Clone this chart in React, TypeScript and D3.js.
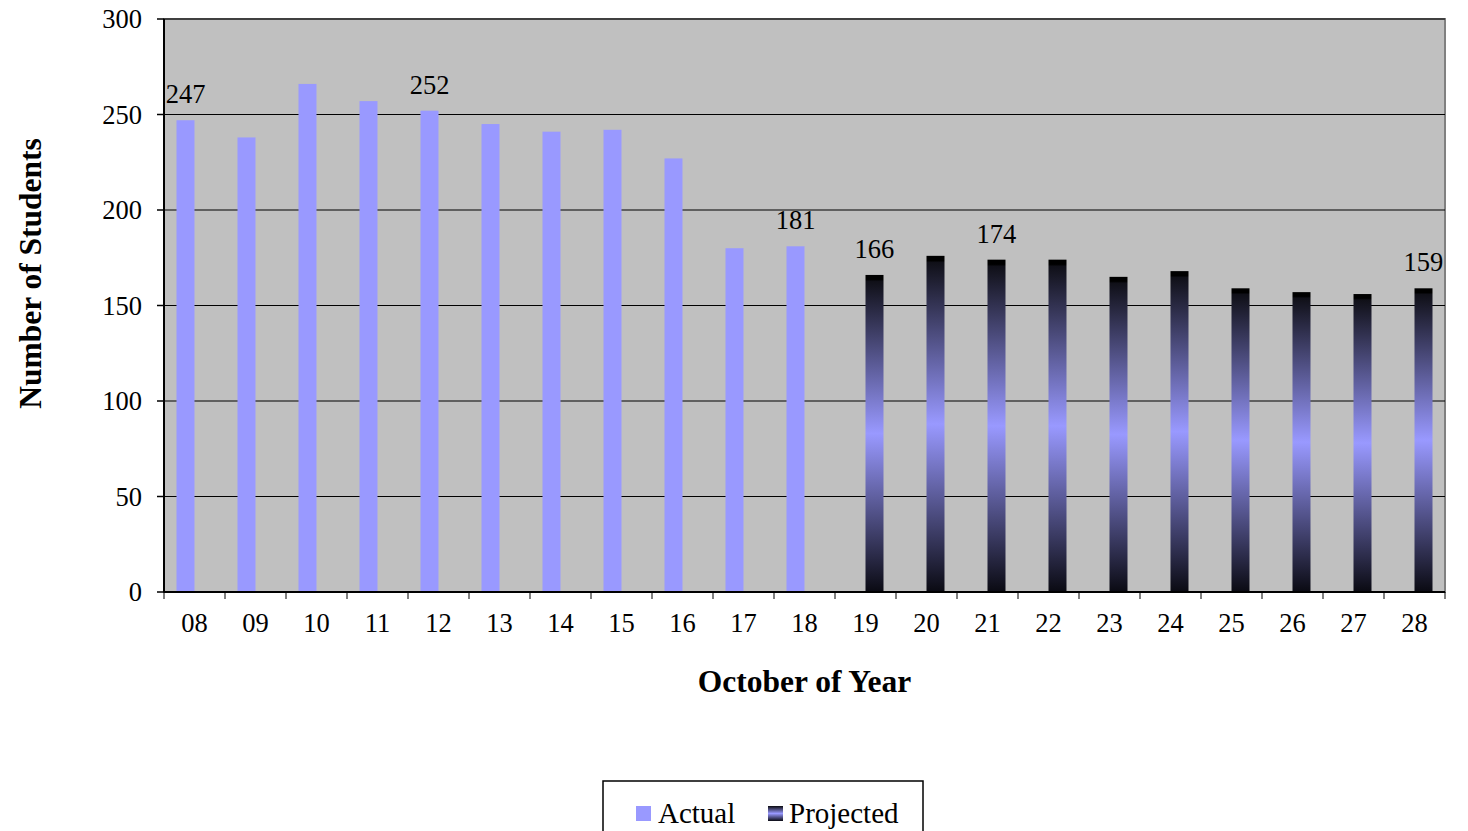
import React from "react";
import * as d3 from "d3";

// October of each year
const years = ["08", "09", "10", "11", "12", "13", "14", "15", "16", "17", "18",
  "19", "20", "21", "22", "23", "24", "25", "26", "27", "28"];
const actual = [247, 238, 266, 257, 252, 245, 241, 242, 227, 180, 181,
  null, null, null, null, null, null, null, null, null, null];
const projected = [null, null, null, null, null, null, null, null, null, null, null,
  166, 176, 174, 174, 165, 168, 159, 157, 156, 159];
const labelled = ["08", "12", "18", "19", "21", "28"];
const series = ["Actual", "Projected"];
const yTicks = [0, 50, 100, 150, 200, 250, 300];

const W = 1468, H = 831;
const margin = { top: 19, right: 23, bottom: 239, left: 164 };
const font = "'Liberation Serif', 'Times New Roman', serif";

export default function App() {
  const iw = W - margin.left - margin.right;
  const ih = H - margin.top - margin.bottom;

  const x = d3.scaleBand().domain(years).range([0, iw]);
  const bw = x.bandwidth();
  const inner = d3.scaleBand().domain(series).range([bw * 0.205, bw * 0.795]);
  const y = d3.scaleLinear().domain([0, 300]).range([ih, 0]);

  const bars: { year: string; s: string; v: number }[] = [];
  years.forEach((yr, i) => {
    if (actual[i] != null) bars.push({ year: yr, s: "Actual", v: actual[i] as number });
    if (projected[i] != null) bars.push({ year: yr, s: "Projected", v: projected[i] as number });
  });

  return (
    <svg width={W} height={H} style={{ position: "absolute", left: 0, top: 0 }} fontFamily={font}>
      <defs>
        <linearGradient id="proj" x1="0" y1="0" x2="0" y2="1">
          <stop offset="0" stopColor="#000000" />
          <stop offset="0.014" stopColor="#000000" />
          <stop offset="0.02" stopColor="#101018" />
          <stop offset="0.5" stopColor="#9999ff" />
          <stop offset="1" stopColor="#0a0a12" />
        </linearGradient>
      </defs>
      <g transform={`translate(${margin.left},${margin.top})`}>
        <rect width={iw} height={ih} fill="#c0c0c0" stroke="#808080" strokeWidth={2} />
        {yTicks.slice(1).map((t) => (
          <line key={t} x1={0} x2={iw} y1={y(t)} y2={y(t)} stroke="#000" strokeWidth={1} />
        ))}
        {bars.map((b) => (
          <rect
            key={b.year + b.s}
            x={(x(b.year) as number) + (inner(b.s) as number)}
            y={y(b.v)}
            width={inner.bandwidth()}
            height={ih - y(b.v)}
            fill={b.s === "Actual" ? "#9999ff" : "url(#proj)"}
          />
        ))}
        {bars.filter((b) => labelled.includes(b.year)).map((b) => (
          <text
            key={"l" + b.year}
            x={(x(b.year) as number) + (inner(b.s) as number) + inner.bandwidth() / 2}
            y={y(b.v) - 17}
            textAnchor="middle"
            fontSize={26.5}
          >
            {b.v}
          </text>
        ))}
        {/* axes */}
        <line x1={0} x2={0} y1={0} y2={ih} stroke="#000" strokeWidth={2} />
        <line x1={0} x2={iw} y1={ih} y2={ih} stroke="#000" strokeWidth={2} />
        {yTicks.map((t) => (
          <g key={"y" + t} transform={`translate(0,${y(t)})`}>
            <line x1={-7} x2={0} stroke="#000" strokeWidth={1.5} />
            <text x={-22} dy="0.35em" textAnchor="end" fontSize={26.5}>{t}</text>
          </g>
        ))}
        {years.map((yr) => (
          <line key={"t" + yr} x1={x(yr) as number} x2={x(yr) as number} y1={ih} y2={ih + 7} stroke="#000" strokeWidth={1} />
        ))}
        <line x1={iw} x2={iw} y1={ih} y2={ih + 7} stroke="#000" strokeWidth={1} />
        {years.map((yr) => (
          <text key={"x" + yr} x={(x(yr) as number) + bw / 2} y={ih + 40} textAnchor="middle" fontSize={26.5}>
            {yr}
          </text>
        ))}
        <text x={iw / 2 + 164 - margin.left} y={ih + 100} textAnchor="middle" fontSize={31.5} fontWeight="bold">
          October of Year
        </text>
      </g>
      <text
        transform={`translate(41,${margin.top + ih / 2 - 32}) rotate(-90)`}
        textAnchor="middle"
        fontSize={31.5}
        fontWeight="bold"
      >
        Number of Students
      </text>
      {/* legend */}
      <g transform="translate(603,781)">
        <rect width={320} height={60} fill="#fff" stroke="#000" strokeWidth={1.5} />
        <rect x={33} y={25} width={15} height={15} fill="#9999ff" />
        <text x={55} y={42} fontSize={29}>{series[0]}</text>
        <rect x={165} y={25} width={15} height={15} fill="url(#proj)" />
        <text x={186} y={42} fontSize={29}>{series[1]}</text>
      </g>
    </svg>
  );
}
